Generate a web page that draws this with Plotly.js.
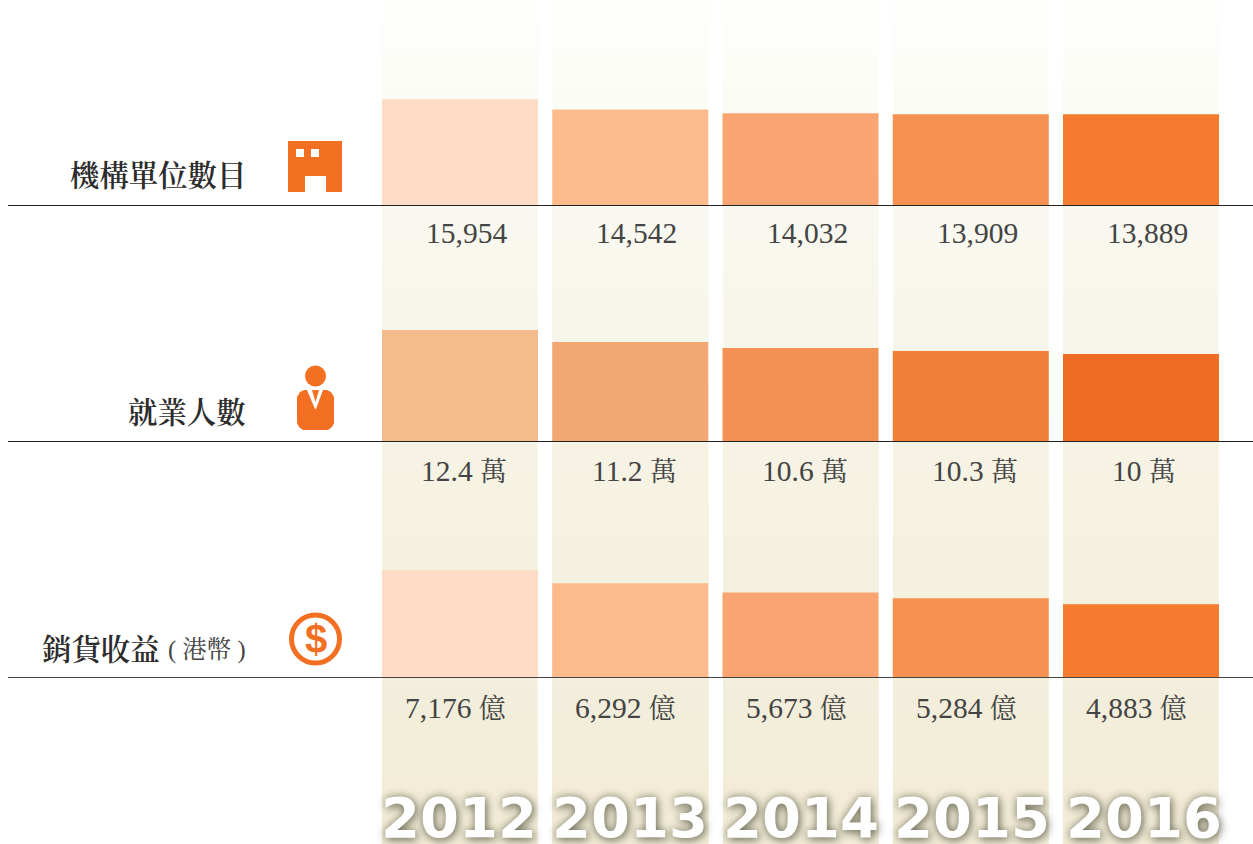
<!DOCTYPE html>
<html><head><meta charset="utf-8">
<script src="https://cdn.plot.ly/plotly-3.0.1.min.js"></script>
<style>html,body{margin:0;padding:0;background:#fff;overflow:hidden}</style>
</head><body><div id="chart" style="width:1253px;height:844px"></div>
<script>
const years = [2012, 2013, 2014, 2015, 2016];
const establishments = [15954, 14542, 14032, 13909, 13889];
const employment = [12.4, 11.2, 10.6, 10.3, 10];
const salesRevenue = [7176, 6292, 5673, 5284, 4883];
const unitSpan = t => '<span style="font-size:27px">' + t + '</span>';
const establishmentLabels = ['15,954', '14,542', '14,032', '13,909', '13,889'];
const employmentLabels = ['12.4 ' + unitSpan('萬'), '11.2 ' + unitSpan('萬'), '10.6 ' + unitSpan('萬'), '10.3 ' + unitSpan('萬'), '10 ' + unitSpan('萬')];
const salesLabels = ['7,176 ' + unitSpan('億'), '6,292 ' + unitSpan('億'), '5,673 ' + unitSpan('億'), '5,284 ' + unitSpan('億'), '4,883 ' + unitSpan('億')];
const rowNames = ['機構單位數目', '就業人數', '銷貨收益'];
const currencyNote = '( 港幣 )';
const lightRamp = ['#FDDCC6', '#FBBB8D', '#F9A571', '#F79151', '#F57B2F'];
const deepRamp = ['#F4BB8D', '#F3A773', '#F29153', '#F07F37', '#EF6D23'];
const bandCentres = [10,40,70,100,130,160,190,220,250,280,310,340,370,400,430,460,490,520,550,580,610,640,670,700,730,760,790,820,850];

const W = 1253, H = 844, STEP = 170.25, ORANGE = '#F37022';
const px = x => x / W, py = y => 1 - y / H;
const x0 = 2012 - 460 / STEP;
const SERIF = '"Liberation Serif","Noto Serif CJK TC","Noto Sans CJK TC",serif';

const traces = [{
  type: 'heatmap', x: years, y: bandCentres,
  z: bandCentres.map(y => years.map(() => y)),
  zmin: 0, zmax: 844, xgap: 14.25, showscale: false, hoverinfo: 'skip',
  colorscale: [[0, '#FEFEFB'], [0.12, '#FCFCF6'], [0.27, '#F9F8F0'], [0.55, '#F6F3E4'], [0.86, '#F3EEDA'], [1, '#F3EDD7']]
}];
[[establishments, lightRamp, 'y2'], [employment, deepRamp, 'y3'], [salesRevenue, lightRamp, 'y4']].forEach(([vals, colors, ax]) => {
  traces.push({type: 'bar', x: years, y: vals, yaxis: ax, width: 156 / STEP,
    marker: {color: colors, line: {width: 0}}, hoverinfo: 'skip'});
});

const rowAxis = (top, base, floor, scale) => ({
  domain: [1 - base / H, 1 - top / H], range: [floor, floor + (base - top) / scale],
  visible: false, fixedrange: true, anchor: 'x'
});

const annotations = [];
const addLabels = (labels, yPos, shifts) => labels.forEach((t, i) => annotations.push({
  xref: 'x', yref: 'y', x: years[i], y: yPos, xshift: shifts[i], text: t,
  xanchor: 'right', yanchor: 'middle', showarrow: false,
  font: {family: SERIF, size: 29.5, color: '#444444'}
}));
addLabels(establishmentLabels, 233, [49, 49, 49, 49, 49]);
addLabels(employmentLabels, 471, [49, 49, 49, 49, 37]);
addLabels(salesLabels, 708, [49, 49, 49, 49, 49]);

rowNames.forEach((t, i) => annotations.push({
  xref: 'paper', yref: 'paper', x: px([247.5, 247.5, 161.5][i]), y: py([176, 413, 650][i]), text: t,
  xanchor: 'right', yanchor: 'middle', showarrow: false,
  font: {family: SERIF, size: 29.4, color: '#2c2c2c', weight: 600}
}));
annotations.push({
  xref: 'paper', yref: 'paper', x: px(248), y: py(650), text: currencyNote,
  xanchor: 'right', yanchor: 'middle', showarrow: false,
  font: {family: SERIF, size: 24.5, color: '#444444'}
});
const yearShift = [-1.5, -0.5, 0, 1, 3];
years.forEach((yr, i) => annotations.push({
  xref: 'x', yref: 'y', x: yr, xshift: yearShift[i], y: 817, text: String(yr),
  xanchor: 'center', yanchor: 'middle', showarrow: false,
  font: {family: '"DejaVu Sans",sans-serif', size: 56, weight: 700, color: '#ffffff',
         shadow: '0 0 9px rgba(70,70,50,0.55), 2px 3px 9px rgba(70,70,50,0.5)'}
}));
annotations.push({
  xref: 'paper', yref: 'paper', x: px(315.5), y: py(639), text: '$',
  xanchor: 'center', yanchor: 'middle', showarrow: false,
  font: {family: '"Liberation Sans",Arial,sans-serif', size: 40, weight: 700, color: ORANGE}
});

const P = pts => 'M' + pts.map(p => px(p[0]) + ',' + py(p[1])).join('L') + 'Z';
const fillPath = (path, color) => ({type: 'path', xref: 'paper', yref: 'paper', path, fillcolor: color, line: {width: 0}, layer: 'above'});
const rule = (y, c) => ({type: 'line', xref: 'paper', yref: 'paper', x0: px(8), x1: 1, y0: py(y), y1: py(y), line: {color: c, width: 1}, layer: 'above'});
const disc = (cx, cy, r, fill, lineW) => ({type: 'circle', xref: 'paper', yref: 'paper',
  x0: px(cx - r), x1: px(cx + r), y0: py(cy + r), y1: py(cy - r),
  fillcolor: fill, line: {color: ORANGE, width: lineW}, layer: 'above'});

const shapes = [
  rule(205.5, '#222'), rule(441.5, '#222'), rule(677.5, '#444'),
  // building icon
  fillPath(P([[288,141],[342,141],[342,192],[326,192],[326,176],[305,176],[305,192],[288,192]]), ORANGE),
  fillPath(P([[296,149],[304,149],[304,157],[296,157]]), '#fff'),
  fillPath(P([[311,149],[319,149],[319,157],[311,157]]), '#fff'),
  // person icon
  disc(315.5, 376, 10.5, ORANGE, 0),
  fillPath(P([[304,390],[327,390],[331,392],[334,397],[334,423],[332,427],[328,430],[303,430],[299,427],[297,423],[297,397],[300,392]]), ORANGE),
  fillPath(P([[307,390],[323,390],[316,409],[315,409]]), '#fff'),
  fillPath(P([[312,390],[319,390],[315.5,402]]), ORANGE),
  // dollar icon
  disc(315.5, 639, 24, '#fff', 5)
];

const layout = {
  width: W, height: H, margin: {l: 0, r: 0, t: 0, b: 0},
  paper_bgcolor: '#fff', plot_bgcolor: 'rgba(0,0,0,0)', showlegend: false, barmode: 'overlay',
  xaxis: {range: [x0, x0 + W / STEP], visible: false, fixedrange: true, domain: [0, 1], anchor: 'y'},
  yaxis: {range: [H, 0], domain: [0, 1], visible: false, fixedrange: true, anchor: 'x'},
  yaxis2: rowAxis(0, 205.5, 1310, 0.00725),
  yaxis3: rowAxis(205.5, 441, 1.3, 10),
  yaxis4: rowAxis(441, 677, 0, 0.0149),
  shapes, annotations
};
Plotly.newPlot('chart', traces, layout, {displayModeBar: false, staticPlot: true});
</script></body></html>
